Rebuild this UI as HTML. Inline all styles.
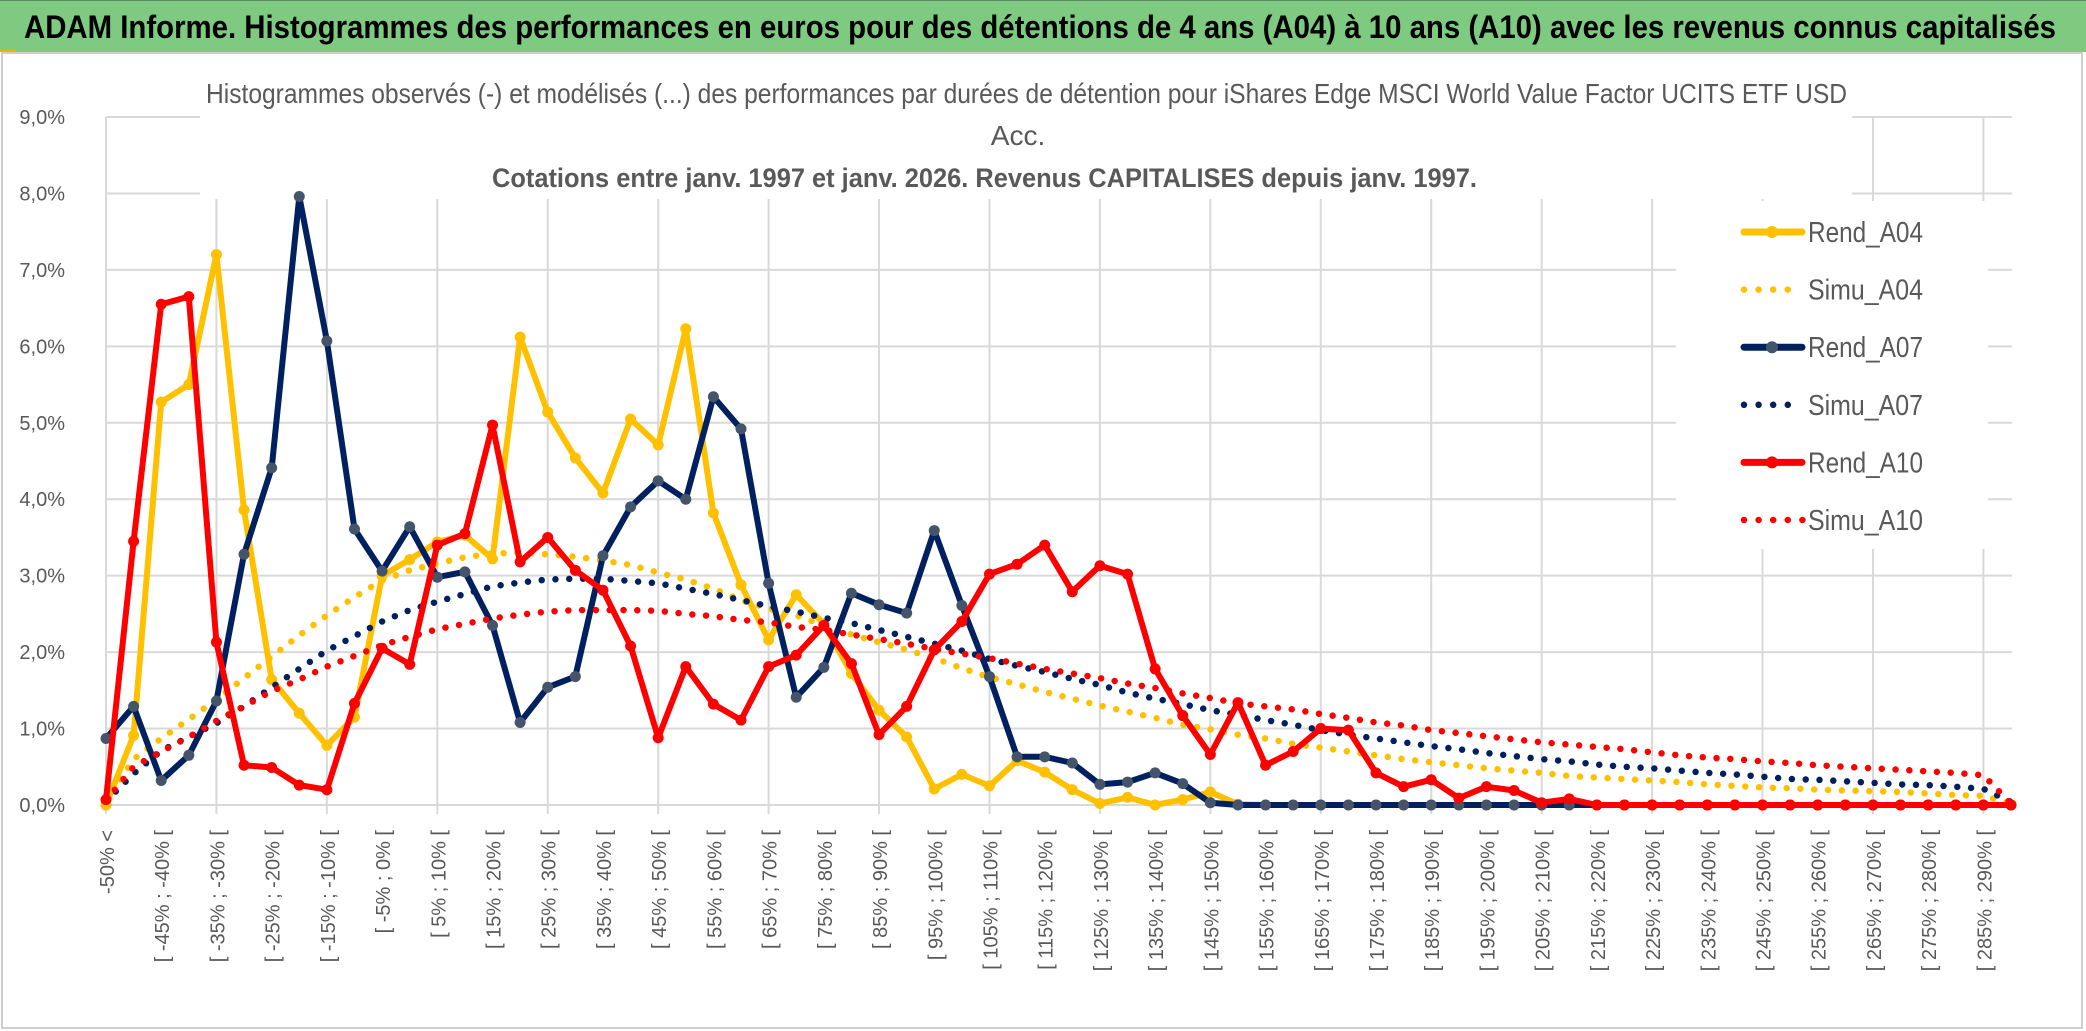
<!DOCTYPE html>
<html><head><meta charset="utf-8"><style>
html,body{margin:0;padding:0;background:#fff;}
svg{display:block;font-family:"Liberation Sans",sans-serif;}
</style></head><body>
<svg id="chart" width="2086" height="1031" viewBox="0 0 2086 1031" xmlns="http://www.w3.org/2000/svg">
<rect x="0" y="0" width="2086" height="52" fill="#7DCA80"/>
<line x1="0" y1="0.5" x2="2086" y2="0.5" stroke="#5a8a5c" stroke-width="1"/>
<rect x="0" y="49" width="16" height="3" fill="#E8B400"/>
<text x="24" y="38" font-size="32" font-weight="bold" fill="#000" textLength="2032" lengthAdjust="spacingAndGlyphs">ADAM Informe. Histogrammes des performances en euros pour des détentions de 4 ans (A04) à 10 ans (A10) avec les revenus connus capitalisés</text>
<rect x="2" y="53" width="2080" height="975" fill="#fff" stroke="#BFBFBF" stroke-width="1.5"/>
<g id="grid"></g>
<rect x="200" y="58" width="1652" height="141" fill="#fff"/>
<text x="206" y="103" font-size="28" fill="#595959" textLength="1641" lengthAdjust="spacingAndGlyphs">Histogrammes observés (-) et modélisés (...) des performances par durées de détention pour iShares Edge MSCI World Value Factor UCITS ETF USD</text>
<text x="1018" y="145" font-size="28" fill="#595959" text-anchor="middle">Acc.</text>
<text x="492" y="187" font-size="27" font-weight="bold" fill="#595959" textLength="985" lengthAdjust="spacingAndGlyphs">Cotations entre janv. 1997 et janv. 2026. Revenus CAPITALISES depuis janv. 1997.</text>
<g id="series"></g>
<g id="legend"></g>
</svg>
<script>
const categories = ["-50% <","[ -50% ; -45% [","[ -45% ; -40% [","[ -40% ; -35% [","[ -35% ; -30% [","[ -30% ; -25% [","[ -25% ; -20% [","[ -20% ; -15% [","[ -15% ; -10% [","[ -10% ; -5% [",
"[ -5% ; 0% [","[ 0% ; 5% [","[ 5% ; 10% [","[ 10% ; 15% [","[ 15% ; 20% [","[ 20% ; 25% [","[ 25% ; 30% [","[ 30% ; 35% [","[ 35% ; 40% [","[ 40% ; 45% [",
"[ 45% ; 50% [","[ 50% ; 55% [","[ 55% ; 60% [","[ 60% ; 65% [","[ 65% ; 70% [","[ 70% ; 75% [","[ 75% ; 80% [","[ 80% ; 85% [","[ 85% ; 90% [","[ 90% ; 95% [",
"[ 95% ; 100% [","[ 100% ; 105% [","[ 105% ; 110% [","[ 110% ; 115% [","[ 115% ; 120% [","[ 120% ; 125% [","[ 125% ; 130% [","[ 130% ; 135% [","[ 135% ; 140% [","[ 140% ; 145% [",
"[ 145% ; 150% [","[ 150% ; 155% [","[ 155% ; 160% [","[ 160% ; 165% [","[ 165% ; 170% [","[ 170% ; 175% [","[ 175% ; 180% [","[ 180% ; 185% [","[ 185% ; 190% [","[ 190% ; 195% [",
"[ 195% ; 200% [","[ 200% ; 205% [","[ 205% ; 210% [","[ 210% ; 215% [","[ 215% ; 220% [","[ 220% ; 225% [","[ 225% ; 230% [","[ 230% ; 235% [","[ 235% ; 240% [","[ 240% ; 245% [",
"[ 245% ; 250% [","[ 250% ; 255% [","[ 255% ; 260% [","[ 260% ; 265% [","[ 265% ; 270% [","[ 270% ; 275% [","[ 275% ; 280% [","[ 280% ; 285% [","[ 285% ; 290% [","[ 290% ; 295% ["];
const yTicks = [0,1,2,3,4,5,6,7,8,9];
const yTickLabels = ["0,0%","1,0%","2,0%","3,0%","4,0%","5,0%","6,0%","7,0%","8,0%","9,0%"];
const rendA04 = [0.00,0.91,5.27,5.50,7.20,3.86,1.64,1.20,0.78,1.15, 3.00,3.21,3.44,3.53,3.22,6.12,5.14,4.54,4.08,5.05, 4.71,6.23,3.82,2.88,2.16,2.75,2.37,1.72,1.24,0.89, 0.21,0.40,0.25,0.58,0.43,0.20,0.02,0.10,0.00,0.07, 0.17,0.01,0,0,0,0,0,0,0,0, 0,0,0,0,0,0,0,0,0,0, 0,0,0,0,0,0,0,0,0,0];
const simuA04 = [0.03,0.60,0.87,1.12,1.38,1.66,1.94,2.22,2.48,2.72, 2.94,3.07,3.16,3.24,3.29,3.30,3.28,3.25,3.20,3.14, 3.04,2.95,2.83,2.68,2.57,2.48,2.35,2.23,2.13,2.03, 1.92,1.79,1.67,1.58,1.48,1.39,1.30,1.22,1.14,1.05, 0.99,0.92,0.87,0.80,0.75,0.70,0.65,0.60,0.56,0.52, 0.48,0.45,0.42,0.38,0.36,0.34,0.32,0.30,0.27,0.25, 0.23,0.22,0.20,0.19,0.18,0.17,0.15,0.13,0.12,0.02];
const rendA07 = [0.87,1.29,0.32,0.65,1.36,3.28,4.41,7.96,6.07,3.61, 3.06,3.64,2.98,3.05,2.35,1.08,1.54,1.68,3.26,3.90, 4.24,4.00,5.34,4.92,2.90,1.41,1.80,2.77,2.62,2.51, 3.59,2.61,1.68,0.63,0.63,0.55,0.27,0.30,0.42,0.28, 0.03,0,0,0,0,0,0,0,0,0, 0,0,0,0,0,0,0,0,0,0, 0,0,0,0,0,0,0,0,0,0];
const simuA07 = [0.05,0.41,0.71,0.89,1.07,1.29,1.54,1.78,2.02,2.21, 2.40,2.55,2.66,2.76,2.86,2.91,2.95,2.96,2.96,2.93, 2.90,2.83,2.76,2.68,2.60,2.53,2.45,2.38,2.29,2.20, 2.11,2.02,1.91,1.82,1.74,1.65,1.57,1.47,1.39,1.32, 1.24,1.18,1.11,1.05,0.98,0.92,0.87,0.82,0.77,0.73, 0.68,0.64,0.60,0.57,0.53,0.50,0.48,0.45,0.42,0.40, 0.37,0.34,0.33,0.31,0.29,0.27,0.26,0.24,0.21,0.04];
const rendA10 = [0.07,3.45,6.55,6.65,2.13,0.52,0.49,0.26,0.20,1.33, 2.05,1.84,3.40,3.55,4.97,3.18,3.50,3.07,2.81,2.08, 0.88,1.81,1.32,1.11,1.81,1.96,2.35,1.85,0.92,1.29, 2.03,2.40,3.02,3.15,3.40,2.79,3.13,3.02,1.78,1.17, 0.66,1.34,0.52,0.70,1.00,0.98,0.42,0.24,0.33,0.09, 0.24,0.19,0.03,0.08,0,0,0,0,0,0, 0,0,0,0,0,0,0,0,0,0];
const simuA10 = [0.06,0.50,0.70,0.89,1.10,1.29,1.49,1.64,1.81,1.95, 2.09,2.20,2.30,2.37,2.44,2.49,2.53,2.55,2.55,2.55, 2.54,2.50,2.47,2.42,2.39,2.33,2.29,2.23,2.17,2.11, 2.04,1.98,1.92,1.85,1.78,1.72,1.66,1.59,1.53,1.46, 1.40,1.33,1.29,1.25,1.19,1.14,1.08,1.04,0.98,0.94, 0.90,0.86,0.82,0.79,0.76,0.73,0.69,0.65,0.62,0.60, 0.57,0.55,0.52,0.50,0.48,0.46,0.44,0.42,0.39,0.02];
const seriesNames = ["Rend_A04","Simu_A04","Rend_A07","Simu_A07","Rend_A10","Simu_A10"];

const NS = "http://www.w3.org/2000/svg";
const X0 = 106, X1 = 2011, Y0 = 805, YTOP = 117, YMAX = 9;
function xPos(i){ return X0 + (X1 - X0) * i / (categories.length - 1); }
function yPos(v){ return Y0 - (Y0 - YTOP) * v / YMAX; }
function mk(tag, attrs, parent){ const e = document.createElementNS(NS, tag); for (const k in attrs) e.setAttribute(k, attrs[k]); parent.appendChild(e); return e; }

const grid = document.getElementById('grid');
yTicks.forEach((t, k) => {
  const gl = mk('line', {x1: X0, x2: 2012, y1: yPos(t), y2: yPos(t), stroke: '#D9D9D9', 'stroke-width': 2}, grid);
  
  
  const tl = mk('text', {x: 65, y: yPos(t) + 7, 'text-anchor': 'end', 'font-size': 20, fill: '#595959'}, grid);
  tl.textContent = yTickLabels[k];
  
  
});
for (let i = 0; i < categories.length; i += 4) {
  const vl = mk('line', {x1: xPos(i), x2: xPos(i), y1: YTOP, y2: Y0 + 9, stroke: '#D9D9D9', 'stroke-width': 2}, grid);
  
  
}
for (let i = 0; i < categories.length; i += 2) {
  const x = xPos(i) + 2, y = 830;
  const lb = mk('text', {x: x, y: y, 'text-anchor': 'end', 'dominant-baseline': 'central', 'font-size': 20, fill: '#595959', transform: 'rotate(-90 ' + x + ' ' + y + ')'}, grid);
  lb.textContent = categories[i];
  
  
}

const seriesG = document.getElementById('series');
function drawRend(vals, color, marker, name){
  const g = mk('g', {}, seriesG);
  
  
  const pts = vals.map((v, i) => xPos(i).toFixed(1) + ',' + yPos(v).toFixed(1)).join(' ');
  const pl = mk('polyline', {points: pts, fill: 'none', stroke: color, 'stroke-width': 6, 'stroke-linejoin': 'round', 'stroke-linecap': 'round'}, g);
  
  
  vals.forEach((v, i) => {
    const c = mk('circle', {cx: xPos(i), cy: yPos(v), r: 5.5, fill: marker}, g);
    
    
  });
}
function drawSimu(vals, color, name){
  const pts = vals.map((v, i) => xPos(i).toFixed(1) + ',' + yPos(v).toFixed(1)).join(' ');
  const pl = mk('polyline', {points: pts, fill: 'none', stroke: color, 'stroke-width': 6.5, 'stroke-linecap': 'round', 'stroke-dasharray': '0 13.8'}, seriesG);
  
  
}
drawRend(rendA04, '#FFC000', '#FFC000', 'series-rend-a04');
drawSimu(simuA04, '#FFC000', 'series-simu-a04');
drawRend(rendA07, '#002060', '#44546A', 'series-rend-a07');
drawSimu(simuA07, '#002060', 'series-simu-a07');
drawRend(rendA10, '#FF0000', '#FF0000', 'series-rend-a10');
drawSimu(simuA10, '#FF0000', 'series-simu-a10');

const legend = document.getElementById('legend');
const lbg = mk('rect', {x: 1676, y: 201, width: 312, height: 348, fill: '#fff'}, legend);


const legColors = ['#FFC000','#FFC000','#002060','#002060','#FF0000','#FF0000'];
const legMarkers = ['#FFC000','#FFC000','#44546A','#002060','#FF0000','#FF0000'];
seriesNames.forEach((nm, k) => {
  const y = 232 + k * 57.6;
  const dotted = nm.indexOf('Simu') === 0;
  const ln = mk('line', {x1: 1744, x2: dotted ? (k === 5 ? 1803 : 1790) : 1802, y1: y, y2: y, stroke: legColors[k], 'stroke-width': dotted ? 6.5 : 7, 'stroke-linecap': 'round', 'stroke-dasharray': dotted ? '0 14.6' : 'none'}, legend);
  
  
  if (!dotted) {
    const c = mk('circle', {cx: 1772, cy: y, r: 6, fill: legMarkers[k]}, legend);
    
    
  }
  const t = mk('text', {x: 1808, y: y + 10, 'font-size': 29, fill: '#595959', textLength: 115, lengthAdjust: 'spacingAndGlyphs'}, legend);
  t.textContent = nm;
  
  
});
</script>
</body></html>
